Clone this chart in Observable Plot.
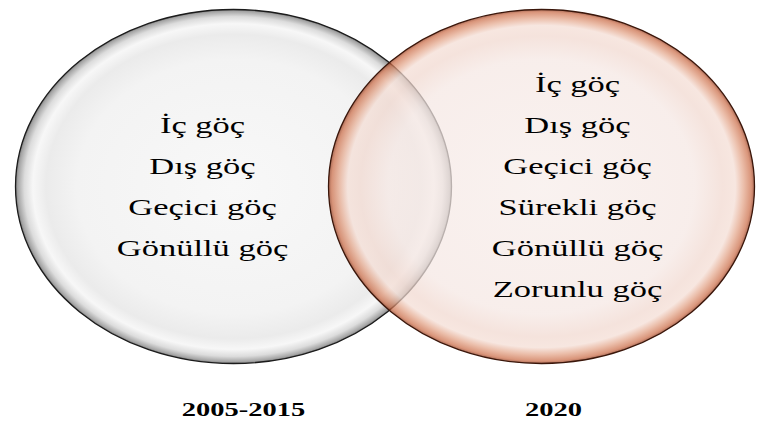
<!DOCTYPE html>
<html><head><meta charset="utf-8">
<script src="https://cdn.jsdelivr.net/npm/d3@7"></script>
<script src="https://cdn.jsdelivr.net/npm/@observablehq/plot@0.6"></script>
<style>body{margin:0;background:#fff;} #chart{width:757px;height:421px;}</style>
</head><body><div id="chart"></div>
<script>
// ---- data ----
const sets = ["2005-2015", "2020"];
const items2005 = ["İç göç", "Dış göç", "Geçici göç", "Gönüllü göç"];
const items2020 = ["İç göç", "Dış göç", "Geçici göç", "Sürekli göç", "Gönüllü göç", "Zorunlu göç"];

// ---- layout ----
const W = 757, H = 421;
const CX = [233, 541];        // ellipse centres
const RX = [218, 213];        // horizontal radii
const RY = 177, CY = 186;
const TEXT_X = [202, 577];
const TEXT_CY = 187, ROW = 41;
const LABEL_X = [243, 553], LABEL_Y = 409;
const STRETCH = 1.5;

function ellipseSymbol(k) {
  return {
    draw(ctx, size) {
      const rx = Math.sqrt(size / Math.PI), ry = rx * k, c = 0.5522847;
      ctx.moveTo(rx, 0);
      ctx.bezierCurveTo(rx, ry * c, rx * c, ry, 0, ry);
      ctx.bezierCurveTo(-rx * c, ry, -rx, ry * c, -rx, 0);
      ctx.bezierCurveTo(-rx, -ry * c, -rx * c, -ry, 0, -ry);
      ctx.bezierCurveTo(rx * c, -ry, rx, -ry * c, rx, 0);
      ctx.closePath();
    }
  };
}

const ellRows = sets.map((s, i) => ({set: s, x: CX[i], y: CY}));
const textRows = (items, i) => items.map((item, j) => ({item, x: TEXT_X[i], y: TEXT_CY + (j - (items.length - 1) / 2) * ROW}));
const labelRows = sets.map((s, i) => ({set: s, x: LABEL_X[i], y: LABEL_Y}));

function defs() {
  const d = d3.create("svg:defs");
  const mk = (id, stops) => {
    const g = d.append("radialGradient").attr("id", id).attr("cx", "50%").attr("cy", "50%").attr("r", "50%");
    stops.forEach(([o, c]) => g.append("stop").attr("offset", o).attr("stop-color", c));
  };
  mk("gL", [["0%", "#f8f8f8"], ["72%", "#f3f3f3"], ["86%", "#ebebeb"], ["92%", "#f7f7f7"], ["96%", "#dcdcdc"], ["99%", "#a5a5a5"], ["100%", "#7a7a7a"]]);
  mk("gR", [["0%", "#f7edea"], ["72%", "#f5e7e3"], ["85%", "#f1d8cf"], ["91%", "#f4ddd4"], ["95%", "#e3a488"], ["98.5%", "#cb6d48"], ["100%", "#8e3518"]]);
  return d.node();
}

const font = "'Liberation Serif', 'Times New Roman', serif";

const chart = Plot.plot({
  width: W, height: H,
  marginTop: 0, marginRight: 0, marginBottom: 0, marginLeft: 0,
  x: {domain: [0, W], range: [0, W], axis: null},
  y: {domain: [0, H], range: [0, H], axis: null},
  style: {background: "#fff"},
  marks: [
    defs,
    Plot.dot([ellRows[0]], {x: "x", y: "y", r: RX[0], symbol: ellipseSymbol(RY / RX[0]), fill: "url(#gL)", stroke: "#1b1b1b", strokeWidth: 1.3}),
    Plot.dot([ellRows[1]], {x: "x", y: "y", r: RX[1], symbol: ellipseSymbol(RY / RX[1]), fill: "url(#gR)", fillOpacity: 0.72, stroke: "#3a160a", strokeWidth: 1.3}),
    Plot.text(textRows(items2005, 0), {x: "x", y: "y", text: "item", fontSize: 23, fontFamily: font, fill: "#000", className: "stretch"}),
    Plot.text(textRows(items2020, 1), {x: "x", y: "y", text: "item", fontSize: 23, fontFamily: font, fill: "#000", className: "stretch"}),
    Plot.text(labelRows, {x: "x", y: "y", text: "set", fontSize: 19, fontWeight: "bold", fontFamily: font, fill: "#000", className: "stretch"})
  ]
});

d3.select(chart).selectAll(".stretch text").each(function() {
  const t = this.getAttribute("transform");
  if (t) this.setAttribute("transform", t + ` scale(${STRETCH},1)`);
  else {
    const x = +this.getAttribute("x") || 0, y = +this.getAttribute("y") || 0;
    this.removeAttribute("x"); this.removeAttribute("y");
    this.setAttribute("transform", `translate(${x},${y}) scale(${STRETCH},1)`);
  }
});

document.getElementById("chart").appendChild(chart);
</script>
</body></html>
